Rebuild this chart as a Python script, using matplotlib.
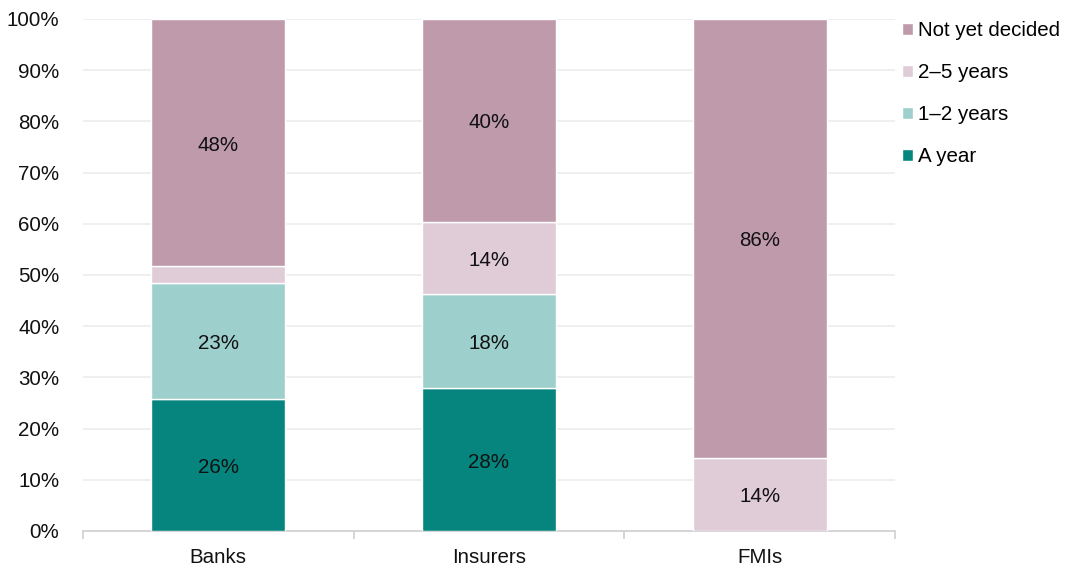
import matplotlib
matplotlib.use("Agg")
import matplotlib.pyplot as plt
import numpy as np

plt.rcParams['font.family'] = ['Liberation Sans', 'DejaVu Sans']

categories = ["Banks", "Insurers", "FMIs"]
series_names = ["A year", "1–2 years", "2–5 years", "Not yet decided"]
a_year = [25.8, 27.9, 0.0]
one_two = [22.6, 18.3, 0.0]
two_five = [3.3, 14.2, 14.3]
not_decided = [48.3, 39.6, 85.7]
colors = ["#06857e", "#9dd0cd", "#e0ccd7", "#bf9aab"]

series = [a_year, one_two, two_five, not_decided]

FS = 14.8

fig = plt.figure(figsize=(10.70, 5.69), dpi=100)
ax = fig.add_axes([83/1070, 38/569, (895-83)/1070, (531-19)/569])

x = np.arange(len(categories))
bottom = np.zeros(len(categories))
handles = []
for name, vals, col in zip(series_names, series, colors):
    vals = np.array(vals)
    bars = ax.bar(x, vals, width=0.495, bottom=bottom, color=col,
                  edgecolor="white", linewidth=1, label=name, zorder=3)
    handles.append(bars)
    for xi, v, b in zip(x, vals, bottom):
        if v >= 5:
            ax.text(xi, b + v / 2 - 0.5, f"{round(v):.0f}%", ha="center", va="center",
                    fontsize=FS, color="#111111", zorder=4)
    bottom += vals

ax.set_xlim(-0.5, 2.5)
ax.set_ylim(0, 100)
ax.set_yticks(np.arange(0, 101, 10))
ax.set_yticklabels([f"{t}%" for t in range(0, 101, 10)], fontsize=FS, color="#111111")
ax.yaxis.grid(True, color="#ececec", linewidth=1.2, zorder=0)
ax.tick_params(axis="y", length=0, pad=17)

ax.set_xticks(x)
ax.set_xticklabels(categories, fontsize=FS, color="#111111")
ax.tick_params(axis="x", length=0, pad=12)
ax.set_xticks([-0.5, 0.5, 1.5, 2.5], minor=True)
ax.tick_params(axis="x", which="minor", length=6, color="#d0d0d0", width=1.2)

for s in ["top", "right", "left"]:
    ax.spines[s].set_visible(False)
ax.spines["bottom"].set_color("#d0d0d0")
ax.spines["bottom"].set_linewidth(1.2)

leg = fig.legend(handles[::-1], series_names[::-1], loc="upper left",
                 bbox_to_anchor=(894/1070, 1 - 13/569), frameon=False,
                 fontsize=FS, handlelength=0.5, handleheight=0.5,
                 handletextpad=0.28, labelspacing=1.12, borderaxespad=0)

fig.savefig("out.png", dpi=100)
